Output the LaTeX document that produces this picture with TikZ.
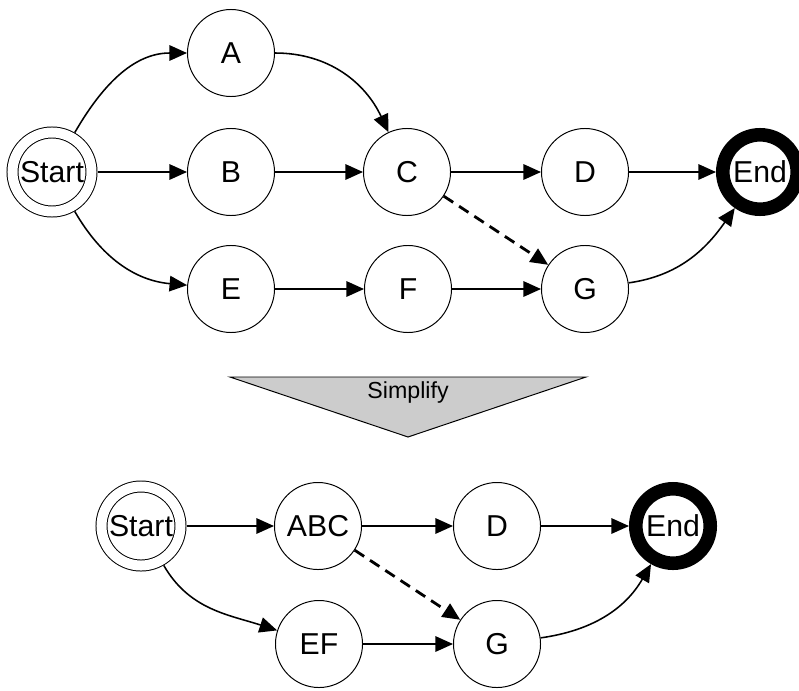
\documentclass[tikz,border=0pt]{standalone}
\usepackage{fontspec}
\setmainfont{Liberation Sans}
\usetikzlibrary{arrows.meta}
\tikzset{
	state/.style={circle, draw, line width=0.7pt, minimum size=2.175cm, inner sep=0pt, font=\fontsize{21.5}{25}\selectfont},
	startstate/.style={state, double, double distance=0.25cm, minimum size=1.975cm, outer sep=0.15cm},
	endstate/.style={state, line width=0.34cm, minimum size=1.86cm, outer sep=0.17cm},
	flow/.style={-{Triangle[length=12.5pt,width=11pt]}, line width=1.1pt},
	skipflow/.style={flow, line width=2pt, dash pattern=on 8pt off 5pt}
}
\begin{document}
\begin{tikzpicture}[x=0.025cm, y=-0.025cm]
					\useasboundingbox (0,0) rectangle (799,690);
					% full graph
					\node[startstate] (start) at (52,172) {Start};
					\node[state] (a) at (231,53) {A};
					\node[state] (b) at (231,172) {B};
					\node[state] (c) at (407,172) {C};
					\node[state] (d) at (585,172) {D};
					\node[endstate] (end) at (760,172) {End};
					\node[state] (e) at (231,289) {E};
					\node[state] (f) at (408,289) {F};
					\node[state] (g) at (585,289) {G};
					% arrows
					\draw [flow] (start) to[out=60, in=180] (a);
					\draw [flow] (start) -- (b);
					\draw [flow] (start) to[out=-60, in=175] (e);
					\draw [flow] (a) to[out=0, in=115] (c);
					\draw [flow] (b) -- (c);
					\draw [flow] (c) -- (d);
					\draw [skipflow] (c) -- (g);
					\draw [flow] (d) -- (end);
					\draw [flow] (e) -- (f);
					\draw [flow] (f) -- (g);
					\draw [flow] (g) to[out=8, in=235] (end);
					% simplify
					\draw [fill=gray!40, line width=0.7pt] (230,377) -- (586,377) -- (408,437) -- cycle;
					\node[font=\fontsize{16.5}{20}\selectfont] (simplify) at (408,392) {Simplify};
					% simple graph
					\node[startstate] (start2) at (141,526) {Start};
					\node[state] (abc) at (318,526) {ABC};
					\node[state] (d2) at (497,526) {D};
					\node[endstate] (end2) at (673,526) {End};
					\node[state] (ef) at (319,644) {EF};
					\node[state] (g2) at (497,644) {G};
					% arrows
					\draw [flow] (start2) -- (abc);
					\draw [flow] (start2) to[out=-60, in=162] (ef);
					\draw [flow] (abc) -- (d2);
					\draw [skipflow] (abc) -- (g2);
					\draw [flow] (d2) -- (end2);
					\draw [flow] (ef) -- (g2);
					\draw [flow] (g2) to[out=8, in=240] (end2);

				\end{tikzpicture}
\end{document}
